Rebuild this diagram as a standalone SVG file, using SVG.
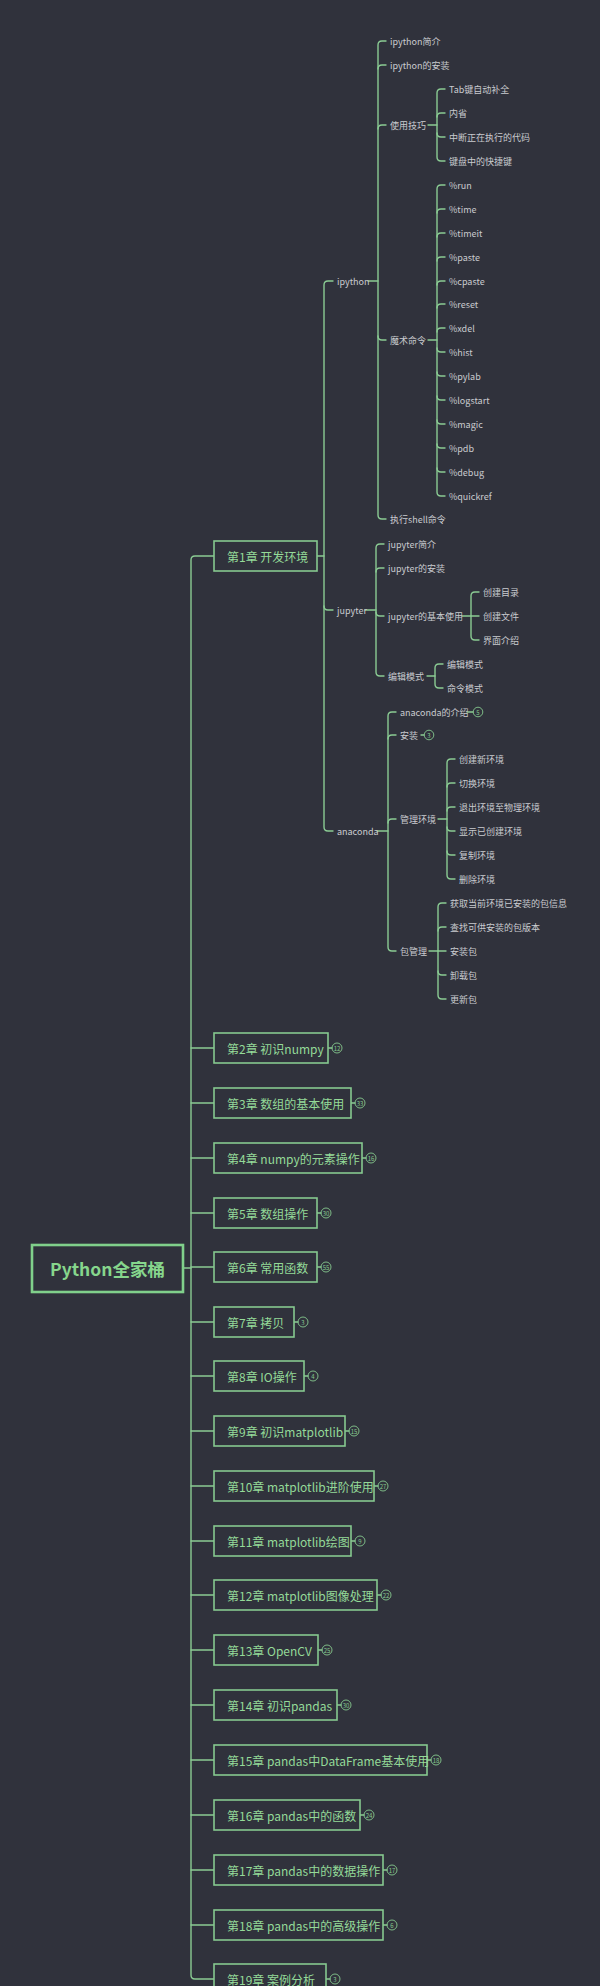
<svg xmlns="http://www.w3.org/2000/svg" width="600" height="1986" viewBox="0 0 600 1986">
<style>
text{font-family:"Noto Sans CJK SC","Noto Sans",sans-serif;dominant-baseline:central}
.bg{fill:#30323c}
.c{fill:none;stroke:#8acb93;stroke-width:1.4;stroke-linecap:round}
.leaf{font-size:9px;fill:#c9cbcf}
.ch rect{fill:#30323c;stroke:#86c98f;stroke-width:1.6}
.ch text{font-size:12px;fill:#94da98}
.root rect{fill:#30323c;stroke:#80d08b;stroke-width:2.6}
.root text{font-size:17.5px;font-weight:bold;fill:#86d68c;text-anchor:middle}
.b circle{fill:none;stroke:#86c98f;stroke-width:0.9}
.b text{font-size:6px;fill:#86c98f;text-anchor:middle}
</style>
<rect class="bg" x="0" y="0" width="600" height="1986"/>
<g id="connectors" class="c">
<path d="M183 1268H191"/>
<path d="M214 556H195Q191 556 191 560V1975Q191 1979 195 1979H214"/>
<path d="M191 1048H214M191 1103H214M191 1158H214M191 1213H214M191 1267H214M191 1322H214M191 1376H214M191 1431H214M191 1486H214M191 1541H214M191 1595H214M191 1650H214M191 1705H214M191 1760H214M191 1815H214M191 1870H214M191 1925H214"/>
<path d="M317 556H324"/>
<path d="M333 281H328Q324 281 324 285V827Q324 831 328 831H333"/>
<path d="M324 606Q324 610 328 610H333"/>
<path d="M368 281H378"/>
<path d="M386 41H382Q378 41 378 45V515Q378 519 382 519H386"/>
<path d="M378 69Q378 65 382 65H386M378 129Q378 125 382 125H386M378 336Q378 340 382 340H386"/>
<path d="M428 125H437"/>
<path d="M445 89H441Q437 89 437 93V157Q437 161 441 161H445"/>
<path d="M437 117Q437 113 441 113H445M437 133Q437 137 441 137H445"/>
<path d="M428 340H437"/>
<path d="M445 185H441Q437 185 437 189V492Q437 496 441 496H445"/>
<path d="M437 213Q437 209 441 209H445M437 237Q437 233 441 233H445M437 261Q437 257 441 257H445M437 285Q437 281 441 281H445M437 308Q437 304 441 304H445M437 332Q437 328 441 328H445M437 348Q437 352 441 352H445M437 372Q437 376 441 376H445M437 396Q437 400 441 400H445M437 420Q437 424 441 424H445M437 444Q437 448 441 448H445M437 468Q437 472 441 472H445"/>
<path d="M365 610H376"/>
<path d="M384 544H380Q376 544 376 548V672Q376 676 380 676H384"/>
<path d="M376 572Q376 568 380 568H384M376 612Q376 616 380 616H384"/>
<path d="M462 616H471"/>
<path d="M479 592H475Q471 592 471 596V636Q471 640 475 640H479"/>
<path d="M471 616H479"/>
<path d="M427 676H435"/>
<path d="M443 664H439Q435 664 435 668V684Q435 688 439 688H443"/>
<path d="M377 831H388"/>
<path d="M396 712H392Q388 712 388 716V947Q388 951 392 951H396"/>
<path d="M388 739Q388 735 392 735H396M388 823Q388 819 392 819H396"/>
<path d="M438 819H447"/>
<path d="M455 759H451Q447 759 447 763V875Q447 879 451 879H455"/>
<path d="M447 787Q447 783 451 783H455M447 811Q447 807 451 807H455M447 827Q447 831 451 831H455M447 851Q447 855 451 855H455"/>
<path d="M429 951H438"/>
<path d="M446 903H442Q438 903 438 907V995Q438 999 442 999H446"/>
<path d="M438 931Q438 927 442 927H446M438 951H446M438 971Q438 975 442 975H446"/>
<path d="M467 712H473M421 735H424"/>
<path d="M328 1048H332M351 1103H355M362 1158H366M317 1213H321M317 1267H321M294 1322H298M304 1376H308M345 1431H349M374 1486H378M351 1541H355M377 1595H381M318 1650H322M337 1705H341M427 1760H431M360 1815H364M383 1870H387M383 1925H387M326 1979H330"/>
</g>
<g id="root" class="root"><rect x="32" y="1245" width="151" height="47"/><text x="107.5" y="1268">Python全家桶</text></g>
<g id="ch1" class="ch"><rect x="214" y="541" width="103" height="30"/><text x="227" y="556">第1章 开发环境</text></g>
<g id="ch2" class="ch"><rect x="214" y="1033" width="114" height="30"/><text x="227" y="1048">第2章 初识numpy</text></g>
<g id="ch3" class="ch"><rect x="214" y="1088" width="137" height="30"/><text x="227" y="1103">第3章 数组的基本使用</text></g>
<g id="ch4" class="ch"><rect x="214" y="1143" width="148" height="30"/><text x="227" y="1158">第4章 numpy的元素操作</text></g>
<g id="ch5" class="ch"><rect x="214" y="1198" width="103" height="30"/><text x="227" y="1213">第5章 数组操作</text></g>
<g id="ch6" class="ch"><rect x="214" y="1252" width="103" height="30"/><text x="227" y="1267">第6章 常用函数</text></g>
<g id="ch7" class="ch"><rect x="214" y="1307" width="80" height="30"/><text x="227" y="1322">第7章 拷贝</text></g>
<g id="ch8" class="ch"><rect x="214" y="1361" width="90" height="30"/><text x="227" y="1376">第8章 IO操作</text></g>
<g id="ch9" class="ch"><rect x="214" y="1416" width="131" height="30"/><text x="227" y="1431">第9章 初识matplotlib</text></g>
<g id="ch10" class="ch"><rect x="214" y="1471" width="160" height="30"/><text x="227" y="1486">第10章 matplotlib进阶使用</text></g>
<g id="ch11" class="ch"><rect x="214" y="1526" width="137" height="30"/><text x="227" y="1541">第11章 matplotlib绘图</text></g>
<g id="ch12" class="ch"><rect x="214" y="1580" width="163" height="30"/><text x="227" y="1595">第12章  matplotlib图像处理</text></g>
<g id="ch13" class="ch"><rect x="214" y="1635" width="104" height="30"/><text x="227" y="1650">第13章 OpenCV</text></g>
<g id="ch14" class="ch"><rect x="214" y="1690" width="123" height="30"/><text x="227" y="1705">第14章 初识pandas</text></g>
<g id="ch15" class="ch"><rect x="214" y="1745" width="213" height="30"/><text x="227" y="1760">第15章 pandas中DataFrame基本使用</text></g>
<g id="ch16" class="ch"><rect x="214" y="1800" width="146" height="30"/><text x="227" y="1815">第16章 pandas中的函数</text></g>
<g id="ch17" class="ch"><rect x="214" y="1855" width="169" height="30"/><text x="227" y="1870">第17章 pandas中的数据操作</text></g>
<g id="ch18" class="ch"><rect x="214" y="1910" width="169" height="30"/><text x="227" y="1925">第18章 pandas中的高级操作</text></g>
<g id="ch19" class="ch"><rect x="214" y="1964" width="112" height="30"/><text x="227" y="1979">第19章  案例分析</text></g>
<g id="badges" class="b">
<g id="b-ana"><circle cx="478" cy="712" r="4.8"/><text x="478" y="712">5</text></g>
<g id="b-inst"><circle cx="429" cy="735" r="4.8"/><text x="429" y="735">3</text></g>
<g id="b2"><circle cx="337" cy="1048" r="5"/><text x="337" y="1048">12</text></g>
<g id="b3"><circle cx="360" cy="1103" r="5"/><text x="360" y="1103">33</text></g>
<g id="b4"><circle cx="371" cy="1158" r="5"/><text x="371" y="1158">16</text></g>
<g id="b5"><circle cx="326" cy="1213" r="5"/><text x="326" y="1213">30</text></g>
<g id="b6"><circle cx="326" cy="1267" r="5"/><text x="326" y="1267">55</text></g>
<g id="b7"><circle cx="303" cy="1322" r="5"/><text x="303" y="1322">3</text></g>
<g id="b8"><circle cx="313" cy="1376" r="5"/><text x="313" y="1376">4</text></g>
<g id="b9"><circle cx="354" cy="1431" r="5"/><text x="354" y="1431">15</text></g>
<g id="b10"><circle cx="383" cy="1486" r="5"/><text x="383" y="1486">27</text></g>
<g id="b11"><circle cx="360" cy="1541" r="5"/><text x="360" y="1541">9</text></g>
<g id="b12"><circle cx="386" cy="1595" r="5"/><text x="386" y="1595">22</text></g>
<g id="b13"><circle cx="327" cy="1650" r="5"/><text x="327" y="1650">25</text></g>
<g id="b14"><circle cx="346" cy="1705" r="5"/><text x="346" y="1705">30</text></g>
<g id="b15"><circle cx="436" cy="1760" r="5"/><text x="436" y="1760">18</text></g>
<g id="b16"><circle cx="369" cy="1815" r="5"/><text x="369" y="1815">24</text></g>
<g id="b17"><circle cx="392" cy="1870" r="5"/><text x="392" y="1870">17</text></g>
<g id="b18"><circle cx="392" cy="1925" r="5"/><text x="392" y="1925">6</text></g>
<g id="b19"><circle cx="335" cy="1979" r="5"/><text x="335" y="1979">3</text></g>
</g>
<g class="leaf">
<g id="ipython"><text x="337" y="281">ipython</text></g>
<g id="jupyter"><text x="337" y="610">jupyter</text></g>
<g id="anaconda"><text x="337" y="831">anaconda</text></g>
<g id="ipy-intro"><text x="390" y="41">ipython简介</text></g>
<g id="ipy-install"><text x="390" y="65">ipython的安装</text></g>
<g id="ipy-tips"><text x="390" y="125">使用技巧</text></g>
<g id="ipy-magic"><text x="390" y="340">魔术命令</text></g>
<g id="ipy-shell"><text x="390" y="519">执行shell命令</text></g>
<g id="tip1"><text x="449" y="89">Tab键自动补全</text></g>
<g id="tip2"><text x="449" y="113">内省</text></g>
<g id="tip3"><text x="449" y="137">中断正在执行的代码</text></g>
<g id="tip4"><text x="449" y="161">键盘中的快捷键</text></g>
<g id="m1"><text x="449" y="185">%run</text></g>
<g id="m2"><text x="449" y="209">%time</text></g>
<g id="m3"><text x="449" y="233">%timeit</text></g>
<g id="m4"><text x="449" y="257">%paste</text></g>
<g id="m5"><text x="449" y="281">%cpaste</text></g>
<g id="m6"><text x="449" y="304">%reset</text></g>
<g id="m7"><text x="449" y="328">%xdel</text></g>
<g id="m8"><text x="449" y="352">%hist</text></g>
<g id="m9"><text x="449" y="376">%pylab</text></g>
<g id="m10"><text x="449" y="400">%logstart</text></g>
<g id="m11"><text x="449" y="424">%magic</text></g>
<g id="m12"><text x="449" y="448">%pdb</text></g>
<g id="m13"><text x="449" y="472">%debug</text></g>
<g id="m14"><text x="449" y="496">%quickref</text></g>
<g id="jup-intro"><text x="388" y="544">jupyter简介</text></g>
<g id="jup-install"><text x="388" y="568">jupyter的安装</text></g>
<g id="jup-basic"><text x="388" y="616">jupyter的基本使用</text></g>
<g id="jup-mode"><text x="388" y="676">编辑模式</text></g>
<g id="jb1"><text x="483" y="592">创建目录</text></g>
<g id="jb2"><text x="483" y="616">创建文件</text></g>
<g id="jb3"><text x="483" y="640">界面介绍</text></g>
<g id="jm1"><text x="447" y="664">编辑模式</text></g>
<g id="jm2"><text x="447" y="688">命令模式</text></g>
<g id="ana-intro"><text x="400" y="712">anaconda的介绍</text></g>
<g id="ana-install"><text x="400" y="735">安装</text></g>
<g id="ana-env"><text x="400" y="819">管理环境</text></g>
<g id="ana-pkg"><text x="400" y="951">包管理</text></g>
<g id="e1"><text x="459" y="759">创建新环境</text></g>
<g id="e2"><text x="459" y="783">切换环境</text></g>
<g id="e3"><text x="459" y="807">退出环境至物理环境</text></g>
<g id="e4"><text x="459" y="831">显示已创建环境</text></g>
<g id="e5"><text x="459" y="855">复制环境</text></g>
<g id="e6"><text x="459" y="879">删除环境</text></g>
<g id="p1"><text x="450" y="903">获取当前环境已安装的包信息</text></g>
<g id="p2"><text x="450" y="927">查找可供安装的包版本</text></g>
<g id="p3"><text x="450" y="951">安装包</text></g>
<g id="p4"><text x="450" y="975">卸载包</text></g>
<g id="p5"><text x="450" y="999">更新包</text></g>
</g>
</svg>
